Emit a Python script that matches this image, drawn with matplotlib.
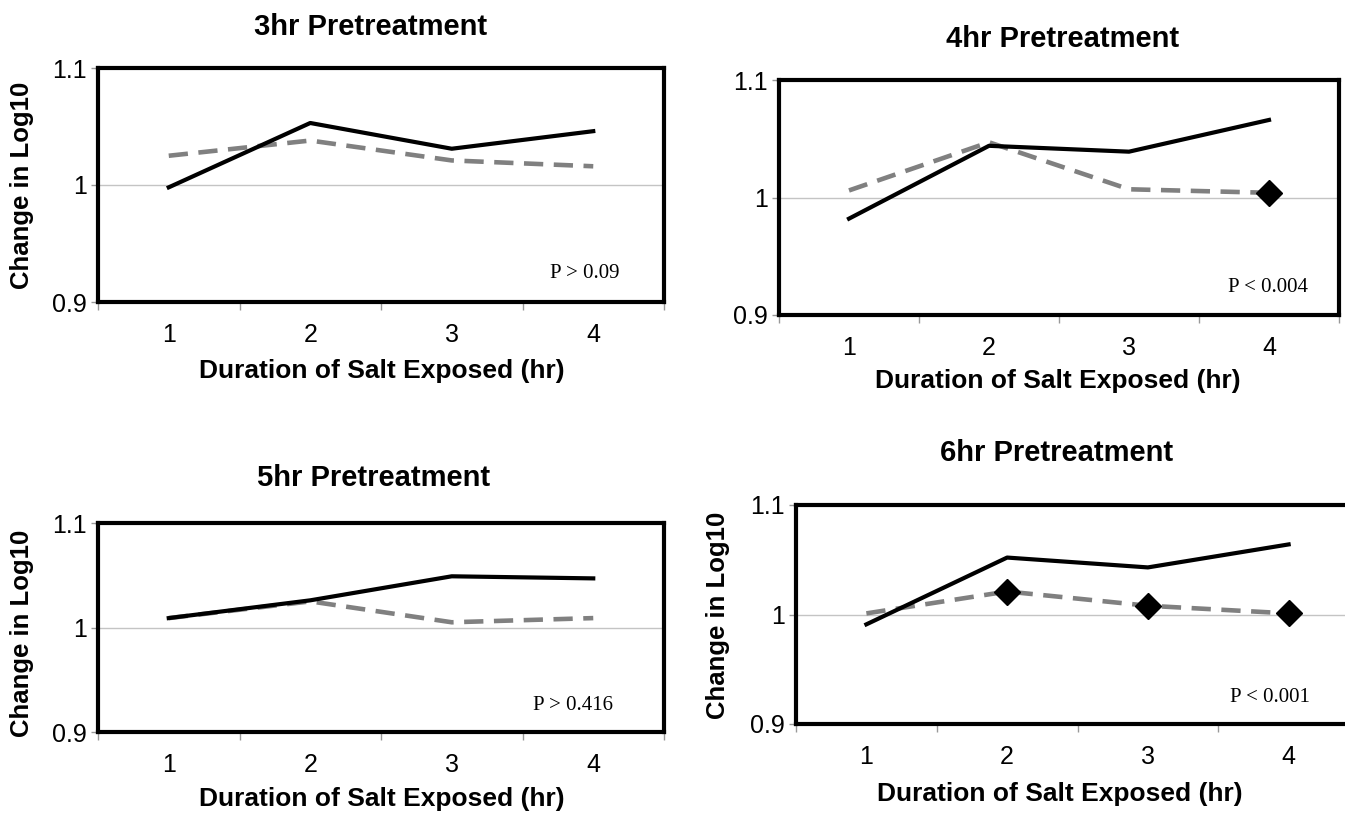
import matplotlib
matplotlib.use("Agg")
import matplotlib.pyplot as plt

plt.rcParams['font.family'] = ['Liberation Sans', 'DejaVu Sans']

# hours of salt exposure (categories on the x axis)
hours = [1, 2, 3, 4]

titles = ['3hr Pretreatment', '4hr Pretreatment', '5hr Pretreatment', '6hr Pretreatment']
pvals = ['P > 0.09', 'P < 0.004', 'P > 0.416', 'P < 0.001']

# solid black series
solid_3hr = [0.998, 1.053, 1.031, 1.046]
solid_4hr = [0.982, 1.044, 1.039, 1.066]
solid_5hr = [1.009, 1.026, 1.049, 1.047]
solid_6hr = [0.991, 1.052, 1.043, 1.064]

# dashed grey series
dash_3hr = [1.025, 1.038, 1.021, 1.016]
dash_4hr = [1.006, 1.047, 1.007, 1.004]
dash_5hr = [1.009, 1.025, 1.005, 1.009]
dash_6hr = [1.001, 1.021, 1.008, 1.001]

# which points of the dashed series carry a diamond (significant)
marked_3hr = []
marked_4hr = [4]
marked_5hr = []
marked_6hr = [2, 3, 4]

yticks = [0.9, 1.0, 1.1]
ytick_labels = ['0.9', '1', '1.1']

W, H = 1345, 814
fig = plt.figure(figsize=(W / 100, H / 100), dpi=100)

# pixel layout: (left, right, top, bottom) of each plot box
boxes = [(98, 664, 68, 302), (779, 1339, 80, 315),
         (98, 664, 523, 732), (796, 1359, 505, 724)]
title_pos = [(371, 27), (1063, 39), (374, 478), (1057, 453)]
xlab_pos = [(382, 371), (1058, 381), (382, 799), (1060, 794)]
ylab_pos = [(22, 185), None, (22, 633), (718, 615)]
p_pos = [(585, 273), (1268, 288), (573, 705), (1270, 697)]

solids = [solid_3hr, solid_4hr, solid_5hr, solid_6hr]
dashes = [dash_3hr, dash_4hr, dash_5hr, dash_6hr]
marks = [marked_3hr, marked_4hr, marked_5hr, marked_6hr]


def fx(x):
    return x / W


def fy(y):
    return 1 - y / H


for i in range(4):
    l, r, t, b = boxes[i]
    ax = fig.add_axes([fx(l), fy(b), (r - l) / W, (b - t) / H])

    ax.axhline(1.0, color='#c4c4c4', lw=1.0, zorder=1)
    ax.plot(hours, dashes[i], color='#808080', lw=3.3, dashes=(4.2, 2.3),
            solid_capstyle='butt', zorder=2)
    ax.plot(hours, solids[i], color='black', lw=3.0, zorder=3)
    mx = [h for h in hours if h in marks[i]]
    my = [dashes[i][hours.index(h)] for h in mx]
    if mx:
        ax.plot(mx, my, 'D', color='black', ms=13.5, zorder=4, linestyle='none')

    ax.set_xlim(0.5, 4.5)
    ax.set_ylim(0.9, 1.1)
    ax.set_xticks(hours)
    ax.set_xticklabels([str(h) for h in hours])
    ax.set_xticks([0.5, 1.5, 2.5, 3.5, 4.5], minor=True)
    ax.set_yticks(yticks)
    ax.set_yticklabels(ytick_labels)
    ax.tick_params(axis='x', which='major', length=0, pad=15, labelsize=18)
    ax.tick_params(axis='x', which='minor', length=6, width=1, color='#999999')
    ax.tick_params(axis='y', length=5, width=1, color='#999999', pad=3, labelsize=18)
    for s in ax.spines.values():
        s.set_linewidth(3.0)
        s.set_color('black')

    fig.text(fx(title_pos[i][0]), fy(title_pos[i][1]), titles[i],
             ha='center', va='center', fontsize=21, fontweight='bold')
    fig.text(fx(xlab_pos[i][0]), fy(xlab_pos[i][1]), 'Duration of Salt Exposed (hr)',
             ha='center', va='center', fontsize=19, fontweight='bold')
    if ylab_pos[i] is not None:
        fig.text(fx(ylab_pos[i][0]), fy(ylab_pos[i][1]), 'Change in Log10',
                 ha='center', va='center', rotation=90, fontsize=18.5, fontweight='bold')
    fig.text(fx(p_pos[i][0]), fy(p_pos[i][1]), pvals[i], ha='center', va='center',
             fontsize=15, family=['Liberation Serif', 'DejaVu Serif'])

fig.savefig('out.png', dpi=100)
